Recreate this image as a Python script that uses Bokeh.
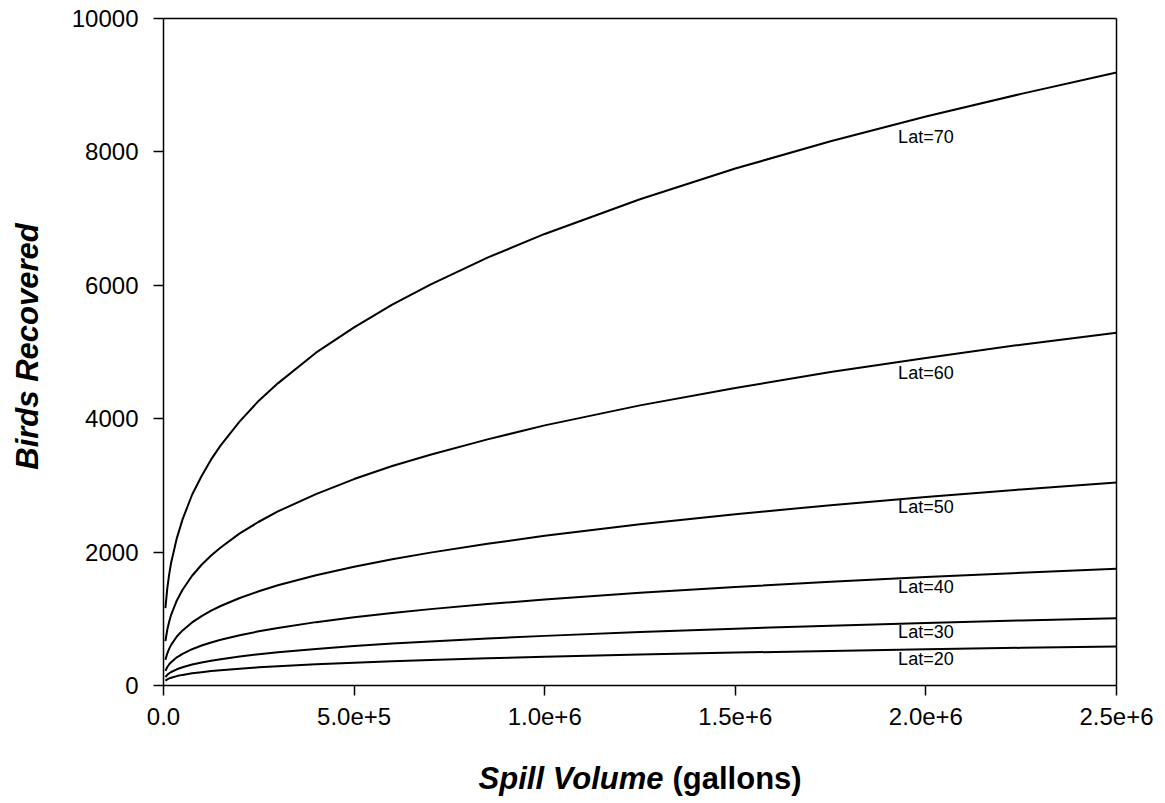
import math
from bokeh.plotting import figure
from bokeh.models import (Label, CustomJSTickFormatter, FixedTicker, Range1d,
                          LinearAxis)
from bokeh.core.properties import value
from bokeh.embed import file_html
from bokeh.resources import INLINE

# Spill volume (gallons) sample points
spill = [5e3, 1e4, 1.5e4, 2e4, 3.5e4, 5e4, 7.5e4, 1e5, 1.25e5, 1.5e5, 2e5, 2.5e5,
         3e5, 4e5, 5e5, 6e5, 7e5, 8.5e5, 1e6, 1.25e6, 1.5e6, 1.75e6, 2e6,
         2.25e6, 2.5e6]

lat70 = [1160, 1460, 1670, 1840, 2210, 2490, 2860, 3140, 3390, 3600, 3960, 4270,
         4530, 4990, 5370, 5710, 6010, 6415, 6770, 7290, 7750, 8160, 8530,
         8870, 9190]
lat60 = [665, 840, 960, 1060, 1275, 1435, 1645, 1810, 1950, 2070, 2280, 2455,
         2610, 2870, 3095, 3290, 3460, 3690, 3900, 4200, 4460, 4700, 4910,
         5110, 5290]
lat50 = [384, 483, 553, 609, 734, 826, 946, 1041, 1122, 1192, 1312, 1413,
         1502, 1653, 1781, 1892, 1992, 2125, 2244, 2417, 2568, 2704, 2827,
         2940, 3045]
lat40 = [220, 278, 318, 350, 422, 475, 544, 599, 645, 685, 754, 812,
         863, 950, 1023, 1087, 1145, 1222, 1289, 1389, 1476, 1554, 1625,
         1690, 1750]
lat30 = [127, 160, 184, 202, 243, 274, 314, 345, 372, 395, 435, 469,
         498, 548, 591, 628, 661, 705, 744, 802, 852, 897, 938,
         975, 1010]
lat20 = [74, 93, 106, 117, 141, 159, 182, 200, 216, 229, 252, 272,
         289, 318, 342, 364, 383, 408, 431, 464, 493, 519, 543,
         565, 585]

series = [lat70, lat60, lat50, lat40, lat30, lat20]
series_names = ["Lat=70", "Lat=60", "Lat=50", "Lat=40", "Lat=30", "Lat=20"]
label_x = 2.0e6
label_y = [8230, 4690, 2670, 1480, 795, 390]

x_min, x_max = 0, 2.5e6
y_min, y_max = 0, 10000
x_ticks = [0, 5e5, 1e6, 1.5e6, 2e6, 2.5e6]
y_ticks = [0, 2000, 4000, 6000, 8000, 10000]

FONT = "Liberation Sans"

# The plotting frame covers the whole canvas; the data box (953 x 667 px) sits
# inside it with these margins, so that all axes and titles draw in the frame.
W, H = 1165, 803
BOX_W, BOX_H = 953, 667
M_LEFT, M_RIGHT, M_TOP, M_BOTTOM = 163, 49, 18, 118
kx = (x_max - x_min) / BOX_W
ky = (y_max - y_min) / BOX_H

p = figure(width=W, height=H, output_backend="svg", toolbar_location=None,
           x_range=Range1d(x_min - M_LEFT * kx, x_max + M_RIGHT * kx),
           y_range=Range1d(y_min - M_BOTTOM * ky, y_max + M_TOP * ky),
           min_border=0)
p.frame_width = W
p.frame_height = H
p.grid.visible = False
p.outline_line_color = None
p.background_fill_color = "white"
p.border_fill_color = "white"

for ys in series:
    p.line(spill, ys, line_color="black", line_width=2)

for name, ly in zip(series_names, label_y):
    p.text(x=[label_x], y=[ly], text=[name], text_align="center",
           text_baseline="middle", text_font=value(FONT),
           text_font_size="18px", text_color="black")

xa = p.xaxis[0]
ya = p.yaxis[0]
xa.fixed_location = y_min
ya.fixed_location = x_min
xa.bounds = (x_min, x_max)
ya.bounds = (y_min, y_max)

for ax in (xa, ya):
    ax.axis_line_color = "black"
    ax.axis_line_width = 1.5
    ax.major_tick_line_color = "black"
    ax.major_tick_line_width = 1.5
    ax.major_tick_out = 10
    ax.major_tick_in = 0
    ax.minor_tick_line_color = None
    ax.major_label_text_font = FONT
    ax.major_label_text_font_size = "24px"
    ax.major_label_text_color = "black"

xa.ticker = FixedTicker(ticks=x_ticks)
ya.ticker = FixedTicker(ticks=y_ticks)
xa.major_label_standoff = 12
ya.major_label_standoff = 15
xa.formatter = CustomJSTickFormatter(
    code="return tick == 0 ? '0.0' : tick.toExponential(1);")
ya.formatter = CustomJSTickFormatter(code="return tick.toFixed(0);")

# top and right border lines of the plot box
top = LinearAxis(fixed_location=y_max, bounds=(x_min, x_max),
                 ticker=FixedTicker(ticks=[]), axis_line_color="black",
                 axis_line_width=1.5, minor_tick_line_color=None,
                 major_tick_line_color=None)
right = LinearAxis(fixed_location=x_max, bounds=(y_min, y_max),
                   ticker=FixedTicker(ticks=[]), axis_line_color="black",
                   axis_line_width=1.5, minor_tick_line_color=None,
                   major_tick_line_color=None)
p.add_layout(top, "above")
p.add_layout(right, "right")

# axis titles (screen units measured from the canvas bottom-left)
p.add_layout(Label(x=27, y=H - 346, x_units="screen", y_units="screen",
                   text="Birds Recovered", angle=math.pi / 2,
                   text_align="center", text_baseline="middle",
                   text_font=FONT, text_font_style="bold italic",
                   text_font_size="31px", text_color="black"))
p.add_layout(Label(x=663, y=H - 778, x_units="screen", y_units="screen",
                   text="Spill Volume", text_align="right",
                   text_baseline="middle", text_font=FONT,
                   text_font_style="bold italic", text_font_size="31px",
                   text_color="black"))
p.add_layout(Label(x=672, y=H - 778, x_units="screen", y_units="screen",
                   text="(gallons)", text_align="left",
                   text_baseline="middle", text_font=FONT,
                   text_font_style="bold", text_font_size="31px",
                   text_color="black"))

open("out.html", "w").write(file_html(p, INLINE))
